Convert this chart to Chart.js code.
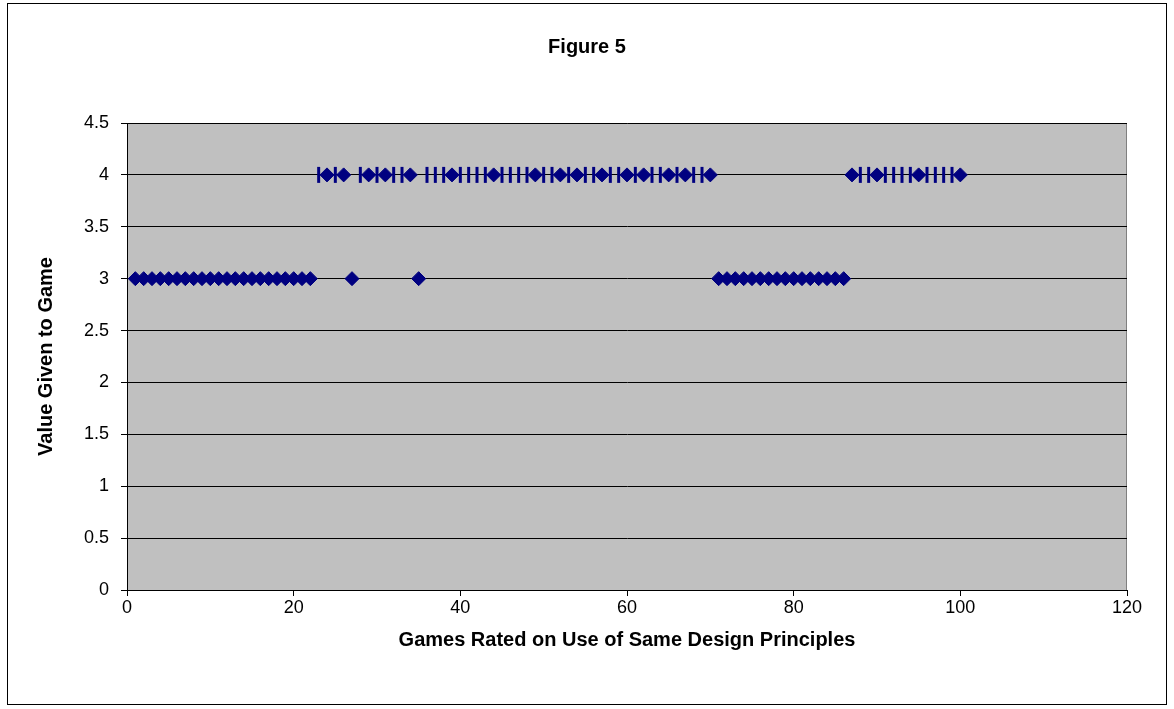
<!DOCTYPE html>
<html>
<head>
<meta charset="utf-8">
<script src="https://cdn.jsdelivr.net/npm/chart.js@4.4.1/dist/chart.umd.min.js"></script>
<style>
  html, body { margin: 0; padding: 0; background: #ffffff; }
  #wrap { width: 1174px; height: 709px; }
</style>
</head>
<body>
<div id="wrap"><canvas id="fig5" width="1174" height="709"></canvas></div>
<script>
// Game index (x) and the value each game was given (y)
const gameNumbers = [
  1, 2, 3, 4, 5, 6, 7, 8, 9, 10, 11, 12, 13, 14, 15, 16, 17, 18, 19, 20,
  21, 22, 23, 24, 25, 26, 27, 28, 29, 30, 31, 32, 33, 34, 35, 36, 37, 38, 39, 40,
  41, 42, 43, 44, 45, 46, 47, 48, 49, 50, 51, 52, 53, 54, 55, 56, 57, 58, 59, 60,
  61, 62, 63, 64, 65, 66, 67, 68, 69, 70, 71, 72, 73, 74, 75, 76, 77, 78, 79, 80,
  81, 82, 83, 84, 85, 86, 87, 88, 89, 90, 91, 92, 93, 94, 95, 96, 97, 98, 99, 100
];
const ratings = [
  3, 3, 3, 3, 3, 3, 3, 3, 3, 3, 3, 3, 3, 3, 3, 3, 3, 3, 3, 3,
  3, 3, 4, 4, 4, 4, 3, 4, 4, 4, 4, 4, 4, 4, 3, 4, 4, 4, 4, 4,
  4, 4, 4, 4, 4, 4, 4, 4, 4, 4, 4, 4, 4, 4, 4, 4, 4, 4, 4, 4,
  4, 4, 4, 4, 4, 4, 4, 4, 4, 4, 3, 3, 3, 3, 3, 3, 3, 3, 3, 3,
  3, 3, 3, 3, 3, 3, 4, 4, 4, 4, 4, 4, 4, 4, 4, 4, 4, 4, 4, 4
];
// Games whose marker shows up only as a thin upright stroke
const strokeMarkedGames = [
  23, 25, 28, 30, 32, 33, 36, 37, 38, 40, 41, 42, 43, 45, 46, 47, 48, 50, 51, 53,
  55, 56, 58, 59, 61, 63, 64, 66, 68, 69, 88, 89, 91, 92, 93, 94, 96, 97, 98, 99
];
const xTickValues = [0, 20, 40, 60, 80, 100, 120];
const xTickLabels = ['0', '20', '40', '60', '80', '100', '120'];
const yTickValues = [0, 0.5, 1, 1.5, 2, 2.5, 3, 3.5, 4, 4.5];
const yTickLabels = ['0', '0.5', '1', '1.5', '2', '2.5', '3', '3.5', '4', '4.5'];

const chartTitle = 'Figure 5';
const xAxisTitle = 'Games Rated on Use of Same Design Principles';
const yAxisTitle = 'Value Given to Game';

const NAVY = '#000080';
const FONT = "'Liberation Sans', Arial, sans-serif";

const points = gameNumbers.map((g, i) => ({ x: g, y: ratings[i] }));
const isStroke = (ctx) => strokeMarkedGames.includes(gameNumbers[ctx.dataIndex]);

// Grey plot area, grey plot frame and the outer chart border
const frames = {
  id: 'frames',
  beforeDraw(chart) {
    const { ctx, chartArea: a } = chart;
    ctx.save();
    ctx.fillStyle = '#ffffff';
    ctx.fillRect(0, 0, chart.width, chart.height);
    ctx.fillStyle = '#c0c0c0';
    ctx.fillRect(a.left, a.top, a.right - a.left, a.bottom - a.top);
    ctx.strokeStyle = '#808080';
    ctx.lineWidth = 1;
    ctx.strokeRect(a.left + 0.5, a.top + 0.5, a.right - a.left - 1, a.bottom - a.top);
    ctx.restore();
  },
  afterDraw(chart) {
    const { ctx } = chart;
    ctx.save();
    ctx.strokeStyle = '#000000';
    ctx.lineWidth = 1;
    ctx.strokeRect(7.5, 3.5, 1159, 701);
    ctx.restore();
  }
};

new Chart(document.getElementById('fig5'), {
  type: 'scatter',
  data: {
    datasets: [{
      data: points,
      backgroundColor: NAVY,
      borderColor: NAVY,
      pointStyle: (ctx) => isStroke(ctx) ? 'line' : 'rectRot',
      rotation: (ctx) => isStroke(ctx) ? 90 : 0,
      pointRadius: (ctx) => isStroke(ctx) ? 8 : 7,
      pointBorderWidth: (ctx) => isStroke(ctx) ? 3 : 1,
      pointHoverRadius: (ctx) => isStroke(ctx) ? 8 : 7
    }]
  },
  options: {
    responsive: false,
    animation: false,
    devicePixelRatio: 1,
    layout: { padding: 0 },
    plugins: {
      legend: { display: false },
      tooltip: { enabled: false },
      title: {
        display: true,
        text: chartTitle,
        color: '#000000',
        font: { family: FONT, size: 20, weight: 'bold' },
        padding: { top: 35, bottom: 64 }
      }
    },
    scales: {
      x: {
        type: 'linear',
        min: 0,
        max: 120,
        afterBuildTicks: (s) => { s.ticks = xTickValues.map(v => ({ value: v })); },
        afterFit: (s) => { s.height = 119; },
        ticks: {
          color: '#000000',
          font: { family: FONT, size: 18 },
          padding: 1,
          maxRotation: 0,
          callback: (v, i) => xTickLabels[i]
        },
        grid: {
          drawOnChartArea: false,
          color: '#000000',
          tickColor: '#000000',
          tickLength: 6
        },
        border: { color: '#000000', width: 1 },
        title: {
          display: true,
          text: xAxisTitle,
          color: '#000000',
          font: { family: FONT, size: 20, weight: 'bold' },
          padding: { top: 0, bottom: 57 }
        }
      },
      y: {
        type: 'linear',
        min: 0,
        max: 4.5,
        afterBuildTicks: (s) => { s.ticks = yTickValues.map(v => ({ value: v })); },
        afterFit: (s) => { s.width = 127; },
        ticks: {
          color: '#000000',
          font: { family: FONT, size: 18 },
          padding: 12,
          callback: (v, i) => yTickLabels[i]
        },
        grid: {
          color: '#000000',
          tickColor: '#000000',
          tickLength: 6
        },
        border: { color: '#000000', width: 1 },
        title: {
          display: true,
          text: yAxisTitle,
          color: '#000000',
          font: { family: FONT, size: 20, weight: 'bold' },
          padding: { top: 34, bottom: 0 }
        }
      },
      // empty right-hand strip that keeps the plot clear of the frame
      gutter: {
        type: 'linear',
        position: 'right',
        display: true,
        ticks: { display: false },
        grid: { display: false, drawTicks: false },
        border: { display: false },
        afterFit: (s) => { s.width = 47; }
      }
    }
  },
  plugins: [frames]
});
</script>
</body>
</html>
